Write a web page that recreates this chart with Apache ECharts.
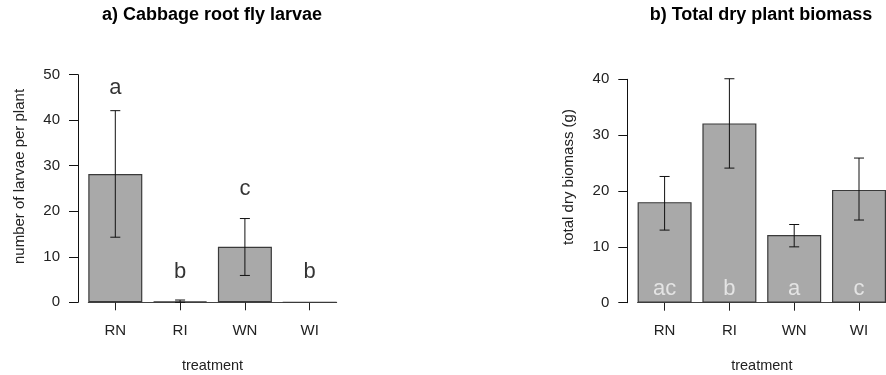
<!DOCTYPE html>
<html><head><meta charset="utf-8">
<script src="https://cdn.jsdelivr.net/npm/echarts@6/dist/echarts.min.js"></script>
<style>html,body{margin:0;padding:0;background:#fff}#c{width:886px;height:375px}</style>
</head><body><div id="c"></div>
<script>
// ---- data ----
const categories = ['RN', 'RI', 'WN', 'WI'];
const larvaeMean = [28.2, 0.2, 12.2, 0];
const larvaeLow = [14.3, 0, 5.9, 0];
const larvaeHigh = [42.1, 0.5, 18.4, 0];
const larvaeLetters = ['a', 'b', 'c', 'b'];
const larvaeLetterY = [47, 6.6, 24.8, 6.6];
const biomassMean = [18.0, 32.1, 12.1, 20.2];
const biomassLow = [13.0, 24.1, 10.0, 14.8];
const biomassHigh = [22.6, 40.1, 14.0, 25.9];
const biomassLetters = ['ac', 'b', 'a', 'c'];
const biomassLetterY = [2.4, 2.4, 2.4, 2.4];
const larvaeAxisMax = 50;
const biomassAxisMax = 40;
const titles = ['a) Cabbage root fly larvae', 'b) Total dry plant biomass'];
const yNames = ['number of larvae per plant', 'total dry biomass (g)'];
const xName = 'treatment';

// ---- layout (R barplot style: width 1, space 0.2) ----
const SPACE = 0.2, W = 1;
const pos = i => SPACE + i * (W + SPACE) + W / 2;
const xMin = SPACE, xMax = categories.length * (W + SPACE);
const tickPos = categories.map((c, i) => pos(i));
const FONT = '"Liberation Sans", Arial, sans-serif';
const gridW = 248.4;
const unitPx = gridW / (xMax - xMin);

const grids = [
  { left: 88.3, top: 74.7, width: gridW, height: 227.6, outerBoundsMode: 'none' },
  { left: 637.6, top: 79.3, width: gridW, height: 223.4, outerBoundsMode: 'none' }
];

function xAxisFor(gi) {
  return {
    type: 'value', gridIndex: gi, min: xMin, max: xMax,
    name: xName, nameLocation: 'middle', nameGap: 56,
    nameTextStyle: { fontFamily: FONT, fontSize: 14.5, color: '#222' },
    axisLine: { show: true, lineStyle: { color: '#444', width: 1 } },
    axisTick: { show: true, customValues: tickPos, length: 8, lineStyle: { color: '#222' } },
    axisLabel: {
      customValues: tickPos, margin: 21, fontFamily: FONT, fontSize: 15, color: '#222',
      formatter: v => categories[Math.round((v - xMin - W / 2) / (W + SPACE))]
    },
    splitLine: { show: false }
  };
}
function yAxisFor(gi, max, name, shift) {
  return {
    type: 'value', gridIndex: gi, min: 0, max: max, interval: 10, offset: 10.3,
    name: name, nameLocation: 'middle', nameGap: 51,
    nameTextStyle: { fontFamily: FONT, fontSize: 15, color: '#222', padding: [0, 0, 0, shift] },
    axisLine: { show: true, lineStyle: { color: '#111', width: 1 } },
    axisTick: { show: true, length: 9, lineStyle: { color: '#111' } },
    axisLabel: { margin: 18, fontFamily: FONT, fontSize: 15, color: '#222' },
    splitLine: { show: false }
  };
}

function barSeries(gi, vals) {
  return {
    type: 'bar', xAxisIndex: gi, yAxisIndex: gi, barWidth: unitPx * W,
    data: vals.map((v, i) => [pos(i), v]),
    itemStyle: { color: '#A9A9A9', borderColor: '#3a3a3a', borderWidth: 1.2 },
    silent: true, animation: false, z: 2
  };
}
function errSeries(gi, lo, hi) {
  return {
    type: 'custom', xAxisIndex: gi, yAxisIndex: gi, clip: false, animation: false, z: 5,
    data: lo.map((l, i) => [pos(i), l, hi[i]]),
    renderItem: function (params, api) {
      const x = api.value(0), l = api.value(1), h = api.value(2);
      if (h - l <= 0) return null;
      const pt = api.coord([x, h]), pb = api.coord([x, l]);
      const cw = 5;
      const st = { stroke: '#111', lineWidth: 1 };
      return {
        type: 'group', children: [
          { type: 'line', shape: { x1: pt[0], y1: pt[1], x2: pb[0], y2: pb[1] }, style: st },
          { type: 'line', shape: { x1: pt[0] - cw, y1: pt[1], x2: pt[0] + cw, y2: pt[1] }, style: st },
          { type: 'line', shape: { x1: pb[0] - cw, y1: pb[1], x2: pb[0] + cw, y2: pb[1] }, style: st }
        ]
      };
    }
  };
}
function letterSeries(gi, letters, ys, color) {
  return {
    type: 'scatter', xAxisIndex: gi, yAxisIndex: gi, symbolSize: 1, z: 10, animation: false,
    itemStyle: { color: 'transparent' },
    data: letters.map((t, i) => [pos(i), ys[i]]),
    label: {
      show: true, position: 'inside', fontFamily: FONT, fontSize: 22, color: color,
      formatter: p => letters[p.dataIndex]
    }
  };
}

const chart = echarts.init(document.getElementById('c'), null, { renderer: 'canvas' });
chart.setOption({
  backgroundColor: '#fff',
  animation: false,
  title: [
    { text: titles[0], left: 212, top: 6, padding: 0, textAlign: 'center',
      textStyle: { fontFamily: FONT, fontSize: 18, fontWeight: 'bold', color: '#000' } },
    { text: titles[1], left: 761, top: 6, padding: 0, textAlign: 'center',
      textStyle: { fontFamily: FONT, fontSize: 18, fontWeight: 'bold', color: '#000' } }
  ],
  grid: grids,
  xAxis: [xAxisFor(0), xAxisFor(1)],
  yAxis: [yAxisFor(0, larvaeAxisMax, yNames[0], 24), yAxisFor(1, biomassAxisMax, yNames[1], 28)],
  series: [
    barSeries(0, larvaeMean),
    errSeries(0, larvaeLow, larvaeHigh),
    letterSeries(0, larvaeLetters, larvaeLetterY, '#000'),
    barSeries(1, biomassMean),
    errSeries(1, biomassLow, biomassHigh),
    letterSeries(1, biomassLetters, biomassLetterY, '#f2f2f2')
  ]
});
</script>
</body></html>
